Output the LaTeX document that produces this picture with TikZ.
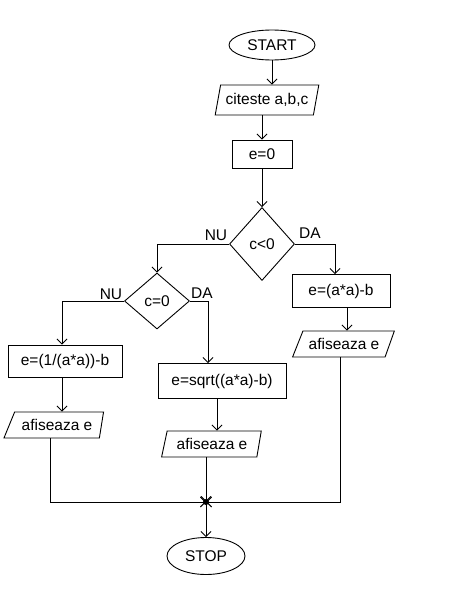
\documentclass[tikz,border=0pt]{standalone}
\usepackage{fontspec}
\setmainfont{Liberation Sans}
\usetikzlibrary{shapes.geometric,arrows.meta}
\begin{document}
\begin{tikzpicture}[x=1pt,y=-1pt,line width=0.9pt,
  font=\fontsize{15.5}{18}\selectfont,
  every node/.style={draw,inner sep=0pt},
  term/.style={ellipse},
  proc/.style={rectangle},
  dec/.style={diamond},
  io/.style={trapezium,trapezium stretches=true,trapezium left angle=70,trapezium right angle=110},
  lab/.style={draw=none},
  arr/.style={-{Straight Barb[length=5pt,width=10pt]}}]
\useasboundingbox (0,0) rectangle (450,589);
\node[term,minimum width=86pt,minimum height=30pt] (start) at (272,45) {START};
\node[io,minimum width=104pt,minimum height=30pt] (cit) at (267,100) {citeste a,b,c};
\node[proc,minimum width=60pt,minimum height=28pt] (e0) at (262,154) {e=0};
\node[dec,minimum width=65pt,minimum height=73pt] (d1) at (262,244) {c<0};
\node[dec,minimum width=65pt,minimum height=56pt] (d2) at (157,301) {c=0};
\node[proc,minimum width=98pt,minimum height=33pt] (b1) at (341,291) {e=(a*a)-b};
\node[proc,minimum width=114pt,minimum height=32pt] (b2) at (65,361) {e=(1/(a*a))-b};
\node[proc,minimum width=128pt,minimum height=35pt] (b3) at (222,381) {e=sqrt((a*a)-b)};
\node[io,trapezium left angle=52,trapezium right angle=125,minimum width=102pt,minimum height=26pt] (o1) at (344,344) {afiseaza e};
\node[io,trapezium left angle=52,trapezium right angle=107,minimum width=100pt,minimum height=26pt] (o2) at (57,425) {afiseaza e};
\node[io,trapezium left angle=69,trapezium right angle=107,minimum width=100pt,minimum height=26pt] (o3) at (212,444) {afiseaza e};
\node[term,minimum width=78pt,minimum height=37pt] (stop) at (206,556) {STOP};
\coordinate (j) at (206,502);
\node[lab] (nu1) at (216,235) {NU};
\node[lab] (da1) at (310,233) {DA};
\node[lab] (nu2) at (111,294) {NU};
\node[lab] (da2) at (202,293) {DA};
\draw[arr] (start) -- (start |- cit.north);
\draw[arr] (cit.south -| e0) -- (e0);
\draw[arr] (e0) -- (d1);
\draw[arr] (d1.west) -| (d2.north);
\draw[arr] (d1.east) -| ([xshift=-6pt]b1.north);
\draw[arr] (d2.west) -| ([xshift=-3pt]b2.north);
\draw[arr] (d2.east) -| ([xshift=-14pt]b3.north);
\draw[arr] ([xshift=6pt]b1.south) -- ([xshift=6pt]b1.south |- o1.north);
\draw[arr] ([xshift=-3pt]b2.south) -- ([xshift=-3pt]b2.south |- o2.north);
\draw[arr] ([xshift=-5pt]b3.south) -- ([xshift=-5pt]b3.south |- o3.north);
\draw[arr] ([xshift=-7pt]o2.south) |- (j);
\draw[arr] (o3.south -| j) -- (j);
\draw[arr] ([xshift=-4pt]o1.south) |- (j);
\fill (j) circle (3pt);
\draw[arr] (j) -- (stop);
\end{tikzpicture}
\end{document}
